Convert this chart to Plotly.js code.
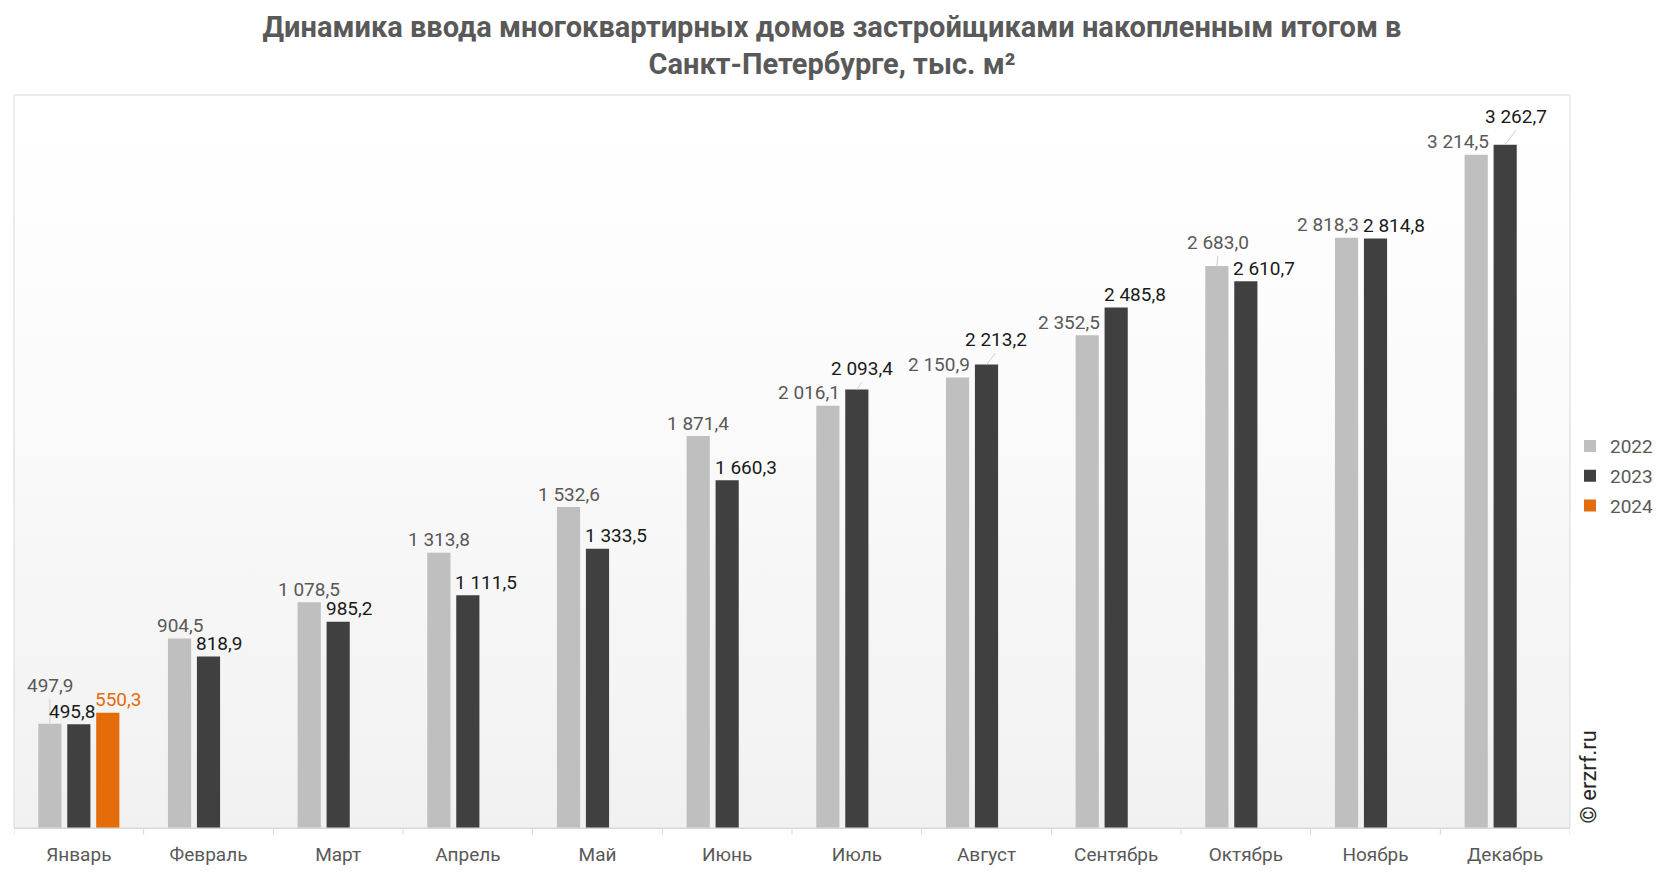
<!DOCTYPE html>
<html>
<head>
<meta charset="utf-8">
<script src="https://cdn.plot.ly/plotly-3.0.1.min.js"></script>
<style>html,body{margin:0;padding:0;background:#fff;}#chart{width:1664px;height:872px;}</style>
</head>
<body>
<div id="chart"></div>
<script>
// ---- data ----
const months = ['Январь','Февраль','Март','Апрель','Май','Июнь','Июль','Август','Сентябрь','Октябрь','Ноябрь','Декабрь'];
const seriesNames = ['2022','2023','2024'];
const v2022 = [497.9, 904.5, 1078.5, 1313.8, 1532.6, 1871.4, 2016.1, 2150.9, 2352.5, 2683.0, 2818.3, 3214.5];
const v2023 = [495.8, 818.9, 985.2, 1111.5, 1333.5, 1660.3, 2093.4, 2213.2, 2485.8, 2610.7, 2814.8, 3262.7];
const v2024 = [550.3, null, null, null, null, null, null, null, null, null, null, null];

// ---- style ----
const colors = ['#bfbfbf', '#404040', '#e46c0a'];
const labelColors = ['#595959', '#1a1a1a', '#e46c0a'];
const BARGAP = 0.33, GROUPGAP = 0.2;
const FONT = 'Roboto, Arial, sans-serif';
const FS = 19;

// label placement tweaks (pixels) for labels moved by hand in the original, with leader lines
const labelNudge = {
  '0-0': {dx: 0, dy: 25, leader: true},
  '0-9': {dx: 1, dy: 11, leader: true},
  '1-0': {dx: -17, dy: 0, leader: false},
  '1-6': {dx: 5, dy: 8, leader: true},
  '1-7': {dx: 9, dy: 12, leader: true},
  '1-11': {dx: 11, dy: 15, leader: true}
};

function fmt(v) {
  const s = v.toFixed(1).split('.');
  const intPart = s[0].replace(/\B(?=(\d{3})+(?!\d))/g, ' ');
  return intPart + ',' + s[1];
}

const allSeries = [v2022, v2023, v2024];
const traces = allSeries.map((vals, s) => ({
  type: 'bar',
  name: seriesNames[s],
  legendgroup: 'g' + s,
  x: months.map((m, i) => i),
  y: vals,
  marker: {color: colors[s]},
  hoverinfo: 'skip'
}));

const slot = (1 - BARGAP) / 3;
const half = slot * (1 - GROUPGAP) / 2;
const offs = [-slot, 0, slot];
const BASE_SHIFT = -0.5;

const annotations = [];
allSeries.forEach((vals, s) => {
  vals.forEach((v, i) => {
    if (v === null || v === undefined) return;
    const center = i + offs[s];
    const nudge = labelNudge[s + '-' + i];
    const common = {
      text: fmt(v), y: v, xref: 'x', yref: 'y',
      font: {family: FONT, size: FS, color: labelColors[s]},
      yanchor: 'bottom'
    };
    if (nudge && nudge.leader) {
      annotations.push(Object.assign(common, {
        x: center, xanchor: 'center', showarrow: true,
        ax: nudge.dx, ay: -(nudge.dy + BASE_SHIFT), arrowhead: 0, arrowwidth: 1,
        arrowcolor: '#d0d0d0', standoff: 0, startstandoff: 0
      }));
      return;
    }
    let x, xanchor, xshift;
    if (s === 0) {
      const other = allSeries[1][i];
      if (other !== null && v - other < 30) {
        x = center + half; xanchor = 'right'; xshift = 3;
      } else {
        x = center; xanchor = 'center'; xshift = 0;
      }
    } else {
      x = center - half; xanchor = 'left'; xshift = -3;
    }
    if (nudge) xshift += nudge.dx;
    annotations.push(Object.assign(common, {
      x: x, xanchor: xanchor, xshift: xshift,
      yshift: BASE_SHIFT + (nudge ? nudge.dy : 0), showarrow: false
    }));
  });
});

annotations.push({
  text: '© erzrf.ru', xref: 'paper', yref: 'paper', x: 1.0116, y: 0.069,
  xanchor: 'center', yanchor: 'middle', textangle: -90, showarrow: false,
  font: {family: FONT, size: 22, color: '#262626'}
});

const grad = "<svg xmlns='http://www.w3.org/2000/svg' width='100' height='100' viewBox='0 0 100 100' preserveAspectRatio='none'>" +
  "<defs><linearGradient id='g' x1='0' y1='0' x2='0' y2='1'>" +
  "<stop offset='0' stop-color='#ffffff'/><stop offset='0.25' stop-color='#fdfdfd'/><stop offset='1' stop-color='#f1f1f1'/>" +
  "</linearGradient></defs><rect width='100' height='100' fill='url(#g)'/></svg>";

const layout = {
  width: 1664, height: 872,
  margin: {l: 14, r: 94, t: 95, b: 44, pad: 0, autoexpand: false},
  paper_bgcolor: '#ffffff',
  plot_bgcolor: 'rgba(0,0,0,0)',
  font: {family: FONT, size: FS, color: '#595959'},
  title: {
    text: 'Динамика ввода многоквартирных домов застройщиками накопленным итогом в<br>Санкт-Петербурге, тыс. м²',
    font: {family: FONT, size: 29, color: '#595959', weight: 700},
    x: 0.5, xref: 'container', xanchor: 'center',
    y: 0.958, yref: 'container', yanchor: 'top'
  },
  barmode: 'group', bargap: BARGAP, bargroupgap: GROUPGAP,
  xaxis: {
    type: 'linear', range: [-0.5, 11.5],
    tickmode: 'array', tickvals: months.map((m, i) => i), ticktext: months,
    ticks: 'outside', ticklen: 9, tickcolor: 'rgba(0,0,0,0)',
    showline: true, linecolor: '#d9d9d9', linewidth: 1,
    showgrid: false, zeroline: false,
    tickfont: {family: FONT, size: FS, color: '#595959'},
    fixedrange: true
  },
  yaxis: {range: [0, 3500], visible: false, showgrid: false, zeroline: false, fixedrange: true},
  legend: {
    orientation: 'v', x: 1.0, xanchor: 'left', y: 0.48, yanchor: 'middle',
    font: {family: FONT, size: FS, color: '#595959'}, bgcolor: 'rgba(0,0,0,0)',
    traceorder: 'grouped', tracegroupgap: 2, itemclick: false
  },
  images: [{
    source: 'data:image/svg+xml;charset=utf-8,' + encodeURIComponent(grad),
    xref: 'paper', yref: 'paper', x: 0, y: 1, sizex: 1, sizey: 1,
    sizing: 'stretch', layer: 'below', xanchor: 'left', yanchor: 'top'
  }],
  shapes: [
    {type: 'rect', xref: 'paper', yref: 'paper', x0: 0, x1: 1, y0: 0, y1: 1,
     line: {color: '#d9d9d9', width: 1}, fillcolor: 'rgba(0,0,0,0)', layer: 'above'}
  ].concat(months.map((m, i) => i - 0.5).concat([11.5]).map(b => ({
    type: 'line', xref: 'x', yref: 'paper', x0: b, x1: b, y0: 0, y1: -0.0095,
    line: {color: '#d9d9d9', width: 1}
  }))),
  annotations: annotations,
  showlegend: true
};

Plotly.newPlot('chart', traces, layout, {displayModeBar: false, staticPlot: true});
</script>
</body>
</html>
